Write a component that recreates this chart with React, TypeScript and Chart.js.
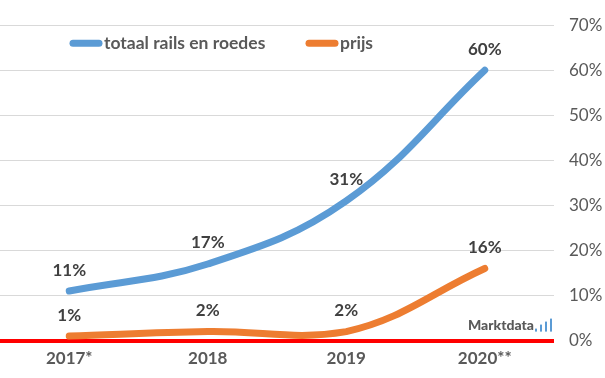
import { useEffect, useRef } from "react";
import { Chart, registerables } from "chart.js";

Chart.register(...registerables);

const categories = ["2017*", "2018", "2019", "2020**"];
const railsValues = [11, 17, 31, 60];
const prijsValues = [1, 2, 2, 16];
const seriesNames = ["totaal rails en roedes", "prijs"];
const seriesColors = ["#5B9BD5", "#ED7D31"];
const yMin = 0;
const yMax = 70;
const yStep = 10;

const FONT = "Lato, 'Open Sans', sans-serif";

const dataLabelPlugin = {
  id: "dataLabels",
  afterDatasetsDraw(chart: any) {
    const ctx = chart.ctx;
    ctx.save();
    ctx.font = `bold 17px ${FONT}`;
    ctx.fillStyle = "#404040";
    ctx.textAlign = "center";
    ctx.textBaseline = "middle";
    chart.data.datasets.forEach((ds: any, i: number) => {
      const meta = chart.getDatasetMeta(i);
      meta.data.forEach((pt: any, j: number) => {
        const v = ds.data[j];
        ctx.fillText(Math.round(v) + "%", pt.x, pt.y - 21);
      });
    });
    ctx.restore();
  },
};

const legendPlugin = {
  id: "customLegend",
  afterDraw(chart: any) {
    const ctx = chart.ctx;
    const area = chart.chartArea;
    ctx.save();
    const ly = area.top + 18;
    const items = [
      { x: area.left + 70, name: seriesNames[0], color: seriesColors[0] },
      { x: area.left + 306, name: seriesNames[1], color: seriesColors[1] },
    ];
    ctx.font = `bold 17.5px ${FONT}`;
    ctx.textBaseline = "middle";
    ctx.textAlign = "left";
    items.forEach((it) => {
      ctx.strokeStyle = it.color;
      ctx.lineWidth = 7;
      ctx.lineCap = "round";
      ctx.beginPath();
      ctx.moveTo(it.x + 3, ly);
      ctx.lineTo(it.x + 29, ly);
      ctx.stroke();
      ctx.fillStyle = "#595959";
      ctx.fillText(it.name, it.x + 34, ly);
    });
    const wx = area.right - 17;
    const wy = area.bottom - 15;
    ctx.font = `900 14px ${FONT}`;
    ctx.textAlign = "right";
    ctx.fillStyle = "#595959";
    ctx.fillText("Marktdata", wx - 3, wy);
    ctx.fillStyle = "#5B9BD5";
    ctx.fillRect(wx - 2, wy + 3, 2, 3);
    ctx.fillRect(wx + 3, wy - 1, 2, 7);
    ctx.fillRect(wx + 8, wy - 4, 2, 10);
    ctx.fillRect(wx + 13, wy - 7, 2, 13);
    ctx.restore();
  },
};

export default function App() {
  const ref = useRef<HTMLCanvasElement>(null);
  useEffect(() => {
    if (!ref.current) return;
    const chart = new Chart(ref.current, {
      type: "line",
      data: {
        labels: categories,
        datasets: [
          {
            label: seriesNames[0],
            data: railsValues,
            borderColor: seriesColors[0],
            backgroundColor: seriesColors[0],
            borderWidth: 7,
            borderCapStyle: "round",
            pointRadius: 0,
            tension: 0.4,
          },
          {
            label: seriesNames[1],
            data: prijsValues,
            borderColor: seriesColors[1],
            backgroundColor: seriesColors[1],
            borderWidth: 7,
            borderCapStyle: "round",
            pointRadius: 0,
            tension: 0.4,
          },
        ],
      },
      options: {
        responsive: false,
        animation: false,
        layout: { padding: { left: 0, right: 0, top: 14, bottom: 1 } },
        plugins: { legend: { display: false }, tooltip: { enabled: false } },
        scales: {
          x: {
            offset: true,
            grid: { display: false, drawTicks: false },
            border: { display: false },
            ticks: {
              padding: 8,
              color: "#595959",
              font: { family: FONT, size: 17, weight: "bold" },
            },
          },
          y: {
            position: "right",
            min: yMin,
            max: yMax,
            border: { display: false },
            afterFit: (scale: any) => {
              scale.width = 51;
            },
            grid: {
              drawTicks: false,
              color: (c: any) => (c.tick && c.tick.value === 0 ? "#FF0000" : "#D9D9D9"),
              lineWidth: (c: any) => (c.tick && c.tick.value === 0 ? 4 : 1),
            },
            ticks: {
              stepSize: yStep,
              padding: 15,
              color: "#595959",
              font: { family: FONT, size: 17 },
              callback: (v: any) => v + "%",
            },
          },
        },
      },
      plugins: [dataLabelPlugin, legendPlugin],
    });
    return () => chart.destroy();
  }, []);
  return (
    <div style={{ position: "absolute", left: 0, top: 0, width: 605, height: 378, background: "#fff" }}>
      <canvas ref={ref} width={605} height={378} />
    </div>
  );
}
